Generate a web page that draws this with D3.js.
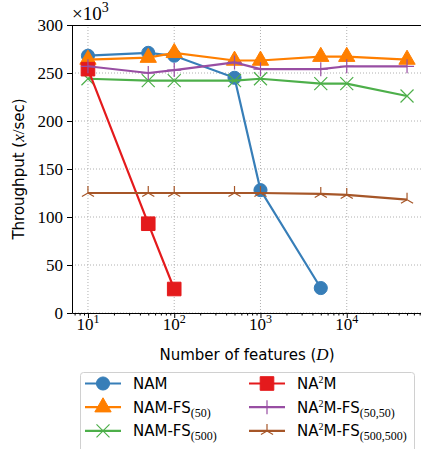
<!DOCTYPE html>
<html>
<head>
<meta charset="utf-8">
<script src="https://cdn.jsdelivr.net/npm/d3@7"></script>
<style>
  body { margin: 0; background: #fff; }
  svg { display: block; }
</style>
</head>
<body>
<div id="chart"></div>
<script>
const width = 421;
const height = 449;
const margin = {top: 25, right: -2, bottom: 136, left: 72};

// features D
const features = [10, 50, 100, 500, 1000, 5000, 10000, 50000];
// throughput in thousands of samples / sec
const nam = [268, 271, 268, 245, 128, 26];
const namFs50 = [264, 266, 271, 263, 263, 267, 267, 264];
const namFs500 = [244, 242, 242, 242, 244, 239, 239, 226];
const na2m = [254, 93, 25];
const na2mFs50 = [257, 250, 253, 261, 254, 254, 257, 257];
const na2mFs500 = [125, 125, 125, 125, 125, 124, 123, 118];
const yTicks = [0, 50, 100, 150, 200, 250, 300];
const xMajor = [10, 100, 1000, 10000];

const series = [
  {name: "NAM", values: nam, color: "#377eb8", marker: "circle"},
  {name: "NAM-FS", sub: "(50)", values: namFs50, color: "#ff7f00", marker: "triangle"},
  {name: "NAM-FS", sub: "(500)", values: namFs500, color: "#4daf4a", marker: "x"},
  {name: "NA2M", values: na2m, color: "#e41a1c", marker: "square"},
  {name: "NA2M-FS", sub: "(50,50)", values: na2mFs50, color: "#984ea3", marker: "plus"},
  {name: "NA2M-FS", sub: "(500,500)", values: na2mFs500, color: "#a65628", marker: "tri"}
];

const serif = "'Liberation Serif', 'DejaVu Serif', serif";
const sans = "'DejaVu Sans', sans-serif";

const svg = d3.select("#chart").append("svg")
  .attr("width", width).attr("height", height);

const x = d3.scaleLog()
  .domain([Math.pow(10, 0.815), Math.pow(10, 4.884)])
  .range([margin.left, width - margin.right]);
const y = d3.scaleLinear()
  .domain([0, 300])
  .range([313, margin.top]);

// grid
const grid = svg.append("g");
grid.selectAll(".gx").data(xMajor).enter().append("line")
  .attr("x1", d => x(d)).attr("x2", d => x(d))
  .attr("y1", y(0)).attr("y2", y(300))
  .attr("stroke", "#b0b0b0").attr("stroke-width", 1).attr("stroke-dasharray", "1,2");
grid.selectAll(".gy").data(yTicks.filter(d => d < 300)).enter().append("line")
  .attr("x1", x.range()[0]).attr("x2", x.range()[1])
  .attr("y1", d => y(d)).attr("y2", d => y(d))
  .attr("stroke", "#b0b0b0").attr("stroke-width", 1).attr("stroke-dasharray", "1,2");

// series
const sym = {
  circle: d3.symbol().type(d3.symbolCircle).size(135),
  square: d3.symbol().type(d3.symbolSquare).size(185),
  triangle: d3.symbol().type(d3.symbolTriangle).size(115)
};

function drawMarker(g, m, color) {
  if (m === "circle" || m === "square" || m === "triangle") {
    g.append("path").attr("d", sym[m]()).attr("fill", color).attr("stroke", color).attr("stroke-width", 1);
  } else if (m === "x") {
    const r = 6.5;
    g.append("path").attr("d", `M${-r},${-r}L${r},${r}M${-r},${r}L${r},${-r}`)
      .attr("stroke", color).attr("stroke-width", 1.2).attr("fill", "none");
  } else if (m === "plus") {
    const r = 7;
    g.append("path").attr("d", `M${-r},0L${r},0M0,${-r}L0,${r}`)
      .attr("stroke", color).attr("stroke-width", 1.2).attr("fill", "none");
  } else if (m === "tri") {
    const r = 7;
    const a = Math.PI / 6;
    g.append("path").attr("d", `M0,0L0,${-r}M0,0L${-r * Math.cos(a)},${r * Math.sin(a)}M0,0L${r * Math.cos(a)},${r * Math.sin(a)}`)
      .attr("stroke", color).attr("stroke-width", 1.2).attr("fill", "none");
  }
}

const line = d3.line().x(d => x(d[0])).y(d => y(d[1]));

series.forEach(s => {
  const pts = s.values.map((v, i) => [features[i], v]);
  const g = svg.append("g");
  g.append("path").datum(pts).attr("d", line)
    .attr("fill", "none").attr("stroke", s.color).attr("stroke-width", 2.2);
  pts.forEach(p => {
    const mg = g.append("g").attr("transform", `translate(${x(p[0])},${y(p[1])})`);
    drawMarker(mg, s.marker, s.color);
  });
});

// axes
const xAxis = svg.append("g").attr("transform", `translate(0,${y(0)})`)
  .call(d3.axisBottom(x).tickValues(x.ticks()).tickSizeInner(2.5).tickSizeOuter(0).tickFormat(""));
xAxis.select(".domain").attr("stroke", "#000").attr("stroke-width", 1);
xAxis.selectAll(".tick line").filter(d => xMajor.includes(d)).attr("y2", 5);

const xLab = svg.append("g");
xMajor.forEach(v => {
  const t = xLab.append("text").attr("x", x(v)).attr("y", 330)
    .attr("text-anchor", "middle").attr("font-family", serif).attr("font-size", 17);
  t.append("tspan").text("10");
  t.append("tspan").attr("dy", -7).attr("font-size", 12).text(Math.log10(v));
});

const yAxis = svg.append("g").attr("transform", `translate(${x.range()[0]},0)`)
  .call(d3.axisLeft(y).tickValues(yTicks).tickSize(5).tickSizeOuter(0).tickPadding(4));
yAxis.select(".domain").attr("stroke", "#000");
yAxis.selectAll("text").attr("font-family", serif).attr("font-size", 17).attr("fill", "#000");

// top spine
svg.append("line").attr("x1", x.range()[0]).attr("x2", width)
  .attr("y1", y(300) + 0.5).attr("y2", y(300) + 0.5).attr("stroke", "#000").attr("stroke-width", 1);

// offset text
const off = svg.append("text").attr("x", 72).attr("y", 20).attr("font-family", serif).attr("font-size", 19);
off.append("tspan").text("\u00d710");
off.append("tspan").attr("dy", -8).attr("font-size", 14).text("3");

// axis labels
const xl = svg.append("text").attr("x", 247).attr("y", 360).attr("text-anchor", "middle")
  .attr("font-family", sans).attr("font-size", 15);
xl.append("tspan").text("Number of features (");
xl.append("tspan").attr("font-family", serif).attr("font-style", "italic").attr("font-size", 17).text("D");
xl.append("tspan").text(")");

const yl = svg.append("text").attr("transform", `translate(24,${(y(0) + y(300)) / 2}) rotate(-90)`)
  .attr("text-anchor", "middle").attr("font-family", sans).attr("font-size", 15);
yl.append("tspan").text("Throughput (");
yl.append("tspan").attr("font-family", serif).attr("font-style", "italic").attr("font-size", 17).text("x");
yl.append("tspan").attr("font-family", serif).attr("font-size", 17).text("/");
yl.append("tspan").text("sec)");

// legend
const leg = svg.append("g");
leg.append("rect").attr("x", 80.5).attr("y", 372.5).attr("width", 334).attr("height", 90).attr("rx", 3)
  .attr("fill", "#fff").attr("stroke", "#d0d0d0").attr("stroke-width", 1);

series.forEach((s, i) => {
  const col = Math.floor(i / 3), row = i % 3;
  const lx = col === 0 ? 85 : 249;
  const ly = 383.5 + row * 23.7;
  const g = leg.append("g");
  g.append("line").attr("x1", lx).attr("x2", lx + 36).attr("y1", ly).attr("y2", ly)
    .attr("stroke", s.color).attr("stroke-width", 2.2);
  const mg = g.append("g").attr("transform", `translate(${lx + 18},${ly})`);
  drawMarker(mg, s.marker, s.color);
  const t = g.append("text").attr("x", lx + 48).attr("y", ly + 5.5)
    .attr("font-family", sans).attr("font-size", 15);
  if (s.name.startsWith("NA2M")) {
    t.append("tspan").text("NA");
    t.append("tspan").attr("dy", -6).attr("font-size", 10).attr("font-family", serif).text("2");
    t.append("tspan").attr("dy", 6).text("M" + s.name.slice(4));
  } else {
    t.append("tspan").text(s.name);
  }
  if (s.sub) {
    t.append("tspan").attr("dy", 4).attr("font-family", serif).attr("font-size", 12).text(s.sub);
  }
});
</script>
</body>
</html>
